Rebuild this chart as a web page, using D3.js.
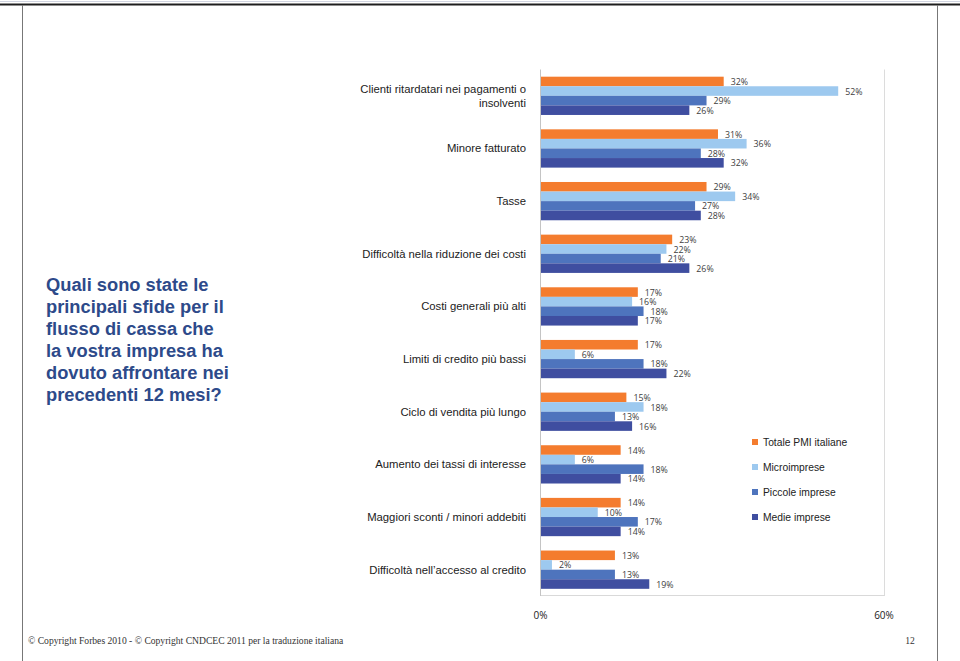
<!DOCTYPE html>
<html><head><meta charset="utf-8">
<script src="https://cdn.jsdelivr.net/npm/d3@7"></script>
<style>body{margin:0;background:#fff}svg{display:block}</style>
</head><body>
<svg id="c" width="960" height="661"></svg>
<script>
const categories = [
  ["Clienti ritardatari nei pagamenti o", "insolventi"],
  ["Minore fatturato"],
  ["Tasse"],
  ["Difficoltà nella riduzione dei costi"],
  ["Costi generali più alti"],
  ["Limiti di credito più bassi"],
  ["Ciclo di vendita più lungo"],
  ["Aumento dei tassi di interesse"],
  ["Maggiori sconti / minori addebiti"],
  ["Difficoltà nell’accesso al credito"]
];
const seriesNames = ["Totale PMI italiane", "Microimprese", "Piccole imprese", "Medie imprese"];
const totale = [32, 31, 29, 23, 17, 17, 15, 14, 14, 13];
const micro  = [52, 36, 34, 22, 16, 6, 18, 6, 10, 2];
const piccole= [29, 28, 27, 21, 18, 18, 13, 18, 17, 13];
const medie  = [26, 32, 28, 26, 17, 22, 16, 14, 14, 19];
const xTicks = [0, 60];
const titleLines = ["Quali sono state le","principali sfide per il","flusso di cassa che","la vostra impresa ha","dovuto affrontare nei","precedenti 12 mesi?"];
const footer = "© Copyright Forbes 2010 - © Copyright CNDCEC 2011 per la traduzione italiana";
const pageNo = "12";

const series = [totale, micro, piccole, medie];
const colors = ["#F47C2E", "#9DC9EF", "#4E74BD", "#3F4EA0"];

const svg = d3.select("#c");

// frame
svg.append("line").attr("x1",0).attr("x2",960).attr("y1",1.5).attr("y2",1.5).attr("stroke","#d0d4e0").attr("stroke-width",1);
svg.append("line").attr("x1",0).attr("x2",960).attr("y1",4.5).attr("y2",4.5).attr("stroke","#1e1e1e").attr("stroke-width",2);
svg.append("line").attr("x1",22.5).attr("x2",22.5).attr("y1",5).attr("y2",661).attr("stroke","#777").attr("stroke-width",1);
svg.append("line").attr("x1",937.5).attr("x2",937.5).attr("y1",5).attr("y2",661).attr("stroke","#777").attr("stroke-width",1);

const x = d3.scaleLinear().domain([0, 60]).range([540.5, 884]);
const y = d3.scaleBand().domain(d3.range(categories.length)).range([69.5, 596]).paddingInner(0.273).paddingOuter(0.1365);
const ys = d3.scaleBand().domain(d3.range(series.length)).range([0, y.bandwidth()]);

// plot area
svg.append("line").attr("x1",x(60)+0.5).attr("x2",x(60)+0.5).attr("y1",69.5).attr("y2",596).attr("stroke","#dcdcdc");
svg.append("line").attr("x1",x(0)).attr("x2",x(60)+0.5).attr("y1",595.5).attr("y2",595.5).attr("stroke","#d9d9d9");

const g = svg.append("g");
categories.forEach((cat, i) => {
  series.forEach((s, j) => {
    const yy = y(i) + ys(j);
    g.append("rect").attr("x", x(0)).attr("y", yy).attr("width", x(s[i]) - x(0)).attr("height", ys.bandwidth()).attr("fill", colors[j]);
    g.append("text").attr("x", x(s[i]) + 7).attr("y", yy + ys.bandwidth()/2 + 0.5).attr("dy","0.35em")
      .attr("font-family","'Open Sans', sans-serif").attr("font-size", 8.8).attr("fill","#404040").text(s[i] + "%");
  });
  const cy = y(i) + y.bandwidth()/2;
  const lh = 14;
  const t = g.append("text").attr("text-anchor","end").attr("font-family","'Liberation Sans', Arial, sans-serif").attr("font-size",11.3).attr("fill","#222");
  cat.forEach((line, k) => {
    t.append("tspan").attr("x", 526).attr("y", cy + (k - (cat.length-1)/2) * lh).attr("dy","0.35em").text(line);
  });
});

// axis
svg.append("line").attr("x1",x(0)).attr("x2",x(0)).attr("y1",69.5).attr("y2",596).attr("stroke","#c4c4c4");
xTicks.forEach(v => {
  svg.append("text").attr("x", x(v)).attr("y", 615).attr("dy","0.35em").attr("text-anchor","middle")
    .attr("font-family","'Open Sans', sans-serif").attr("font-size",10).attr("fill","#222").text(v + "%");
});

// legend
seriesNames.forEach((n, j) => {
  const ly = 442 + j * 25;
  svg.append("rect").attr("x",752).attr("y",ly-3).attr("width",6).attr("height",6).attr("fill",colors[j]);
  svg.append("text").attr("x",763).attr("y",ly).attr("dy","0.35em").attr("font-family","'Liberation Sans', Arial, sans-serif")
    .attr("font-size",10.3).attr("fill","#222").text(n);
});

// title
const tt = svg.append("text").attr("font-family","'Liberation Sans', Arial, sans-serif").attr("font-weight","bold").attr("font-size",18.3).attr("fill","#2D4A8A");
titleLines.forEach((l, k) => {
  tt.append("tspan").attr("x",46).attr("y",285 + k*22).attr("dy","0.35em").text(l);
});

// footer
svg.append("text").attr("x",28).attr("y",641).attr("dy","0.35em").attr("font-family","'Liberation Serif', serif").attr("font-size",9.6).attr("fill","#333").text(footer);
svg.append("text").attr("x",910).attr("y",641).attr("dy","0.35em").attr("text-anchor","middle").attr("font-family","'Liberation Serif', serif").attr("font-size",9.6).attr("fill","#333").text(pageNo);
</script>
</body></html>
